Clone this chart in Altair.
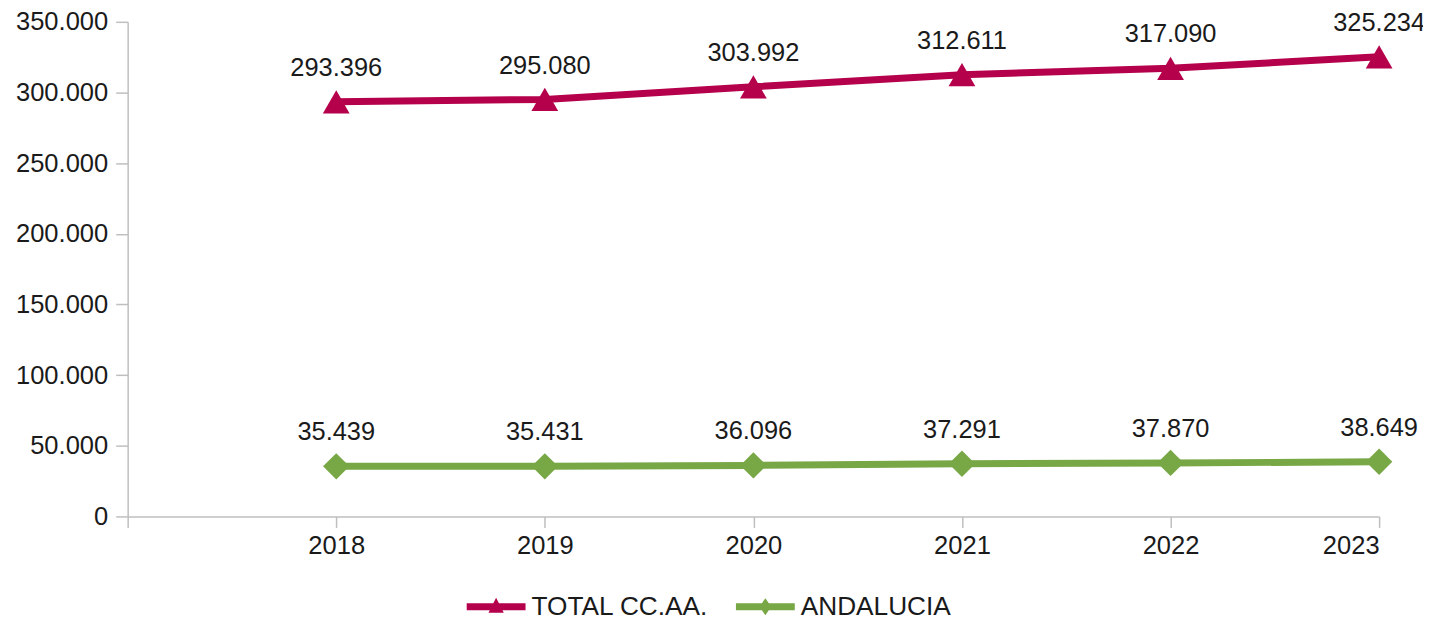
import altair as alt
import pandas as pd

years = [2018, 2019, 2020, 2021, 2022, 2023]
total_ccaa = [293396, 295080, 303992, 312611, 317090, 325234]
andalucia = [35439, 35431, 36096, 37291, 37870, 38649]
series = ["TOTAL CC.AA.", "ANDALUCIA"]
colors = ["#b5004b", "#78a746"]
x_ticks = [2017, 2018, 2019, 2020, 2021, 2022, 2023]
y_ticks = [0, 50000, 100000, 150000, 200000, 250000, 300000, 350000]

df = pd.DataFrame({
    "year": years + years,
    "value": total_ccaa + andalucia,
    "serie": [series[0]] * len(years) + [series[1]] * len(years),
})

FONT = "Liberation Sans"
AXIS_COLOR = "#bfbfbf"
TEXT_COLOR = "#1a1a1a"

x = alt.X(
    "year:Q",
    scale=alt.Scale(domain=[2017, 2023], nice=False, zero=False),
    axis=alt.Axis(
        values=x_ticks, format="d", title=None, grid=False,
        labelExpr="datum.value == 2017 ? '' : datum.label",
        domainColor=AXIS_COLOR, tickColor=AXIS_COLOR, domainWidth=1.5, tickWidth=1.5,
        tickSize=11, labelPadding=6, labelFontSize=25.6, labelFont=FONT,
        labelColor=TEXT_COLOR,
    ),
)
y = alt.Y(
    "value:Q",
    scale=alt.Scale(domain=[0, 350000], nice=False),
    axis=alt.Axis(
        values=y_ticks, format=",d", title=None, grid=False,
        labelExpr="replace(datum.label, ',', '.')",
        domainColor=AXIS_COLOR, tickColor=AXIS_COLOR, domainWidth=1.5, tickWidth=1.5,
        tickSize=12, labelPadding=8, labelFontSize=25.6, labelFont=FONT,
        labelColor=TEXT_COLOR,
    ),
)
color_scale = alt.Scale(domain=series, range=colors)

legend_paths = [
    "M-1,-0.12 H1 V0.12 H-1 Z M0,-0.31 L0.26,0.2 L-0.26,0.2 Z",
    "M-1,-0.12 H1 V0.12 H-1 Z M0,-0.29 L0.2,0 L0,0.29 L-0.2,0 Z",
]
legend_def = alt.Legend(
    title=None, orient="none", direction="horizontal", legendX=340, legendY=557,
    symbolSize=3481, symbolStrokeWidth=0, labelFontSize=26.3, labelFont=FONT,
    labelColor=TEXT_COLOR, labelOffset=6, columnPadding=27, symbolOpacity=1,
    labelLimit=500,
)
color = alt.Color("serie:N", scale=color_scale, legend=legend_def)

base = alt.Chart(df)

line = base.mark_line(strokeWidth=7).encode(x=x, y=y, color=color, detail="serie:N")
tri = base.transform_filter(alt.datum.serie == series[0]).mark_point(
    shape="triangle-up", filled=True, size=720, opacity=1
).encode(x=x, y=y, color=color)
dia = base.transform_filter(alt.datum.serie == series[1]).mark_point(
    shape="diamond", filled=True, size=700, opacity=1
).encode(x=x, y=y, color=color)

labels = base.transform_calculate(
    label="replace(format(datum.value, ',d'), ',', '.')"
).mark_text(dy=-34, fontSize=25.5, font=FONT, color=TEXT_COLOR, baseline="middle").encode(
    x=x, y=y, text="label:N"
)

legend_layer = base.transform_filter("false").mark_point(filled=True, opacity=1).encode(
    x=x, y=y,
    color=color,
    shape=alt.Shape("serie:N", scale=alt.Scale(domain=series, range=legend_paths), legend=legend_def),
)

chart = alt.layer(line, tri, dia, labels, legend_layer).properties(
    width=1255, height=496,
    autosize=alt.AutoSizeParams(type="none"),
    padding={"left": 120, "top": 13, "right": 44, "bottom": 104},
).configure(font=FONT).configure_view(strokeWidth=0, stroke=None)

chart.save("out.html", embed_options={"renderer": "svg", "actions": False})
